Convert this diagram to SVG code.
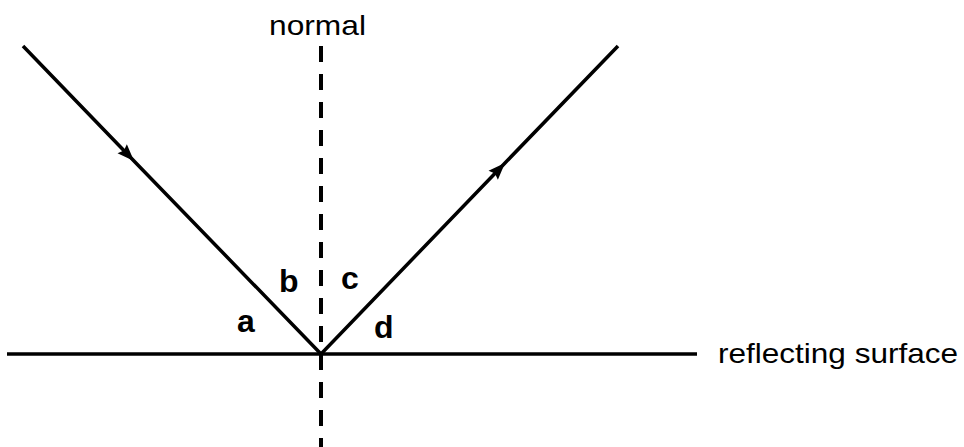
<svg xmlns="http://www.w3.org/2000/svg" width="964" height="447" viewBox="0 0 964 447">
<style>
.ln{stroke:#000;stroke-width:3.5;fill:none}
.dash{stroke:#000;stroke-width:4;stroke-dasharray:16 12;fill:none}
.t{font-family:"Liberation Sans",Arial,sans-serif;font-size:28px;fill:#000}
.lb{font-family:"Liberation Sans",Arial,sans-serif;font-size:32px;font-weight:bold;fill:#000}
</style>
<defs>
<marker id="ah" viewBox="-18 -8 19 16" refX="0" refY="0" markerWidth="19" markerHeight="16" orient="auto" markerUnits="userSpaceOnUse">
<path d="M0,0 L-17,-6.5 L-14.5,0 L-17,6.5 z" fill="#000"/>
</marker>
</defs>
<g id="connectors">
<line class="ln" x1="7" y1="354" x2="697" y2="354"/>
<line class="dash" x1="321" y1="46" x2="321" y2="447"/>
<path class="ln" d="M23,46 L134,161 L321,354" marker-mid="url(#ah)"/>
<path class="ln" d="M321,354 L505,163 L618,46" marker-mid="url(#ah)"/>
</g>
<g id="normal-label"><text class="t" x="269" y="35" textLength="97" lengthAdjust="spacingAndGlyphs">normal</text></g>
<g id="surface-label"><text class="t" x="718" y="363" textLength="240" lengthAdjust="spacingAndGlyphs">reflecting surface</text></g>
<g id="label-a"><text class="lb" x="237" y="332">a</text></g>
<g id="label-b"><text class="lb" x="279" y="292">b</text></g>
<g id="label-c"><text class="lb" x="341" y="289">c</text></g>
<g id="label-d"><text class="lb" x="374" y="338">d</text></g>
</svg>
